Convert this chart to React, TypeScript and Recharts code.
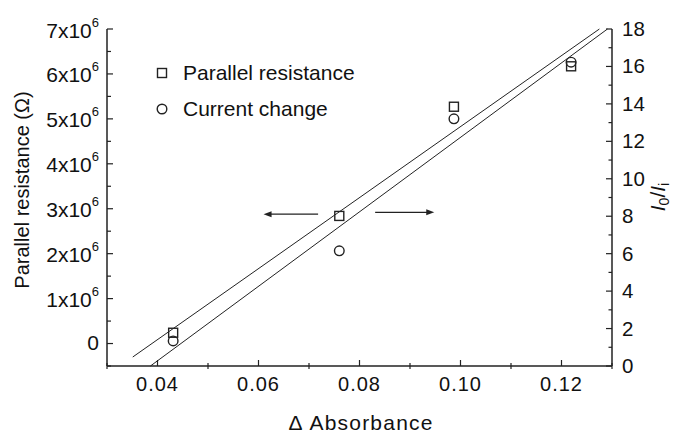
import { Label, Legend, ReferenceLine, Scatter, ScatterChart, XAxis, YAxis } from 'recharts';

const absorbance = [0.0431, 0.076, 0.0987, 0.1219];
const parallelResistance = [0.24e6, 2.84e6, 5.27e6, 6.17e6];
const currentChange = [1.34, 6.15, 13.2, 16.23];

// end points of the two linear fits
const fitResistance = [{ x: 0.0351, y: -0.3e6 }, { x: 0.1275, y: 7e6 }];
const fitCurrent = [{ x: 0.0386, y: 0 }, { x: 0.1291, y: 18 }];

// annotation arrows (which axis each set belongs to)
const arrowLeft = [{ x: 0.0718, y: 2.88e6 }, { x: 0.061, y: 2.88e6 }];
const arrowRight = [{ x: 0.0831, y: 2.92e6 }, { x: 0.0948, y: 2.92e6 }];

const xTicks = [0.03, 0.04, 0.05, 0.06, 0.07, 0.08, 0.09, 0.1, 0.11, 0.12, 0.13];
const xLabels = [0.04, 0.06, 0.08, 0.1, 0.12];
const leftTicks = [-0.5e6, 0, 0.5e6, 1e6, 1.5e6, 2e6, 2.5e6, 3e6, 3.5e6, 4e6, 4.5e6, 5e6, 5.5e6, 6e6, 6.5e6, 7e6];
const leftLabels = [0, 1e6, 2e6, 3e6, 4e6, 5e6, 6e6, 7e6];
const rightTicks = [0, 1, 2, 3, 4, 5, 6, 7, 8, 9, 10, 11, 12, 13, 14, 15, 16, 17, 18];
const rightLabels = [0, 2, 4, 6, 8, 10, 12, 14, 16, 18];

const resistancePoints = absorbance.map((x, i) => ({ x, y: parallelResistance[i] }));
const currentPoints = absorbance.map((x, i) => ({ x, y: currentChange[i] }));

const INK = '#222';
const FONT = 'Liberation Sans, Arial, sans-serif';
const isIn = (list: number[], v: number) => list.some((l) => Math.abs(l - v) < 1e-9);

function BottomTick({ x, y, payload }: any) {
  const major = isIn(xLabels, payload.value);
  return (
    <g>
      <line x1={x} x2={x} y1={major ? y - 6 : y - 3} y2={major ? y : y + 3} stroke={INK} strokeWidth={1.2} />
      {major && (
        <text x={x} y={y + 25} textAnchor="middle" fontSize={20} fontFamily={FONT} fill="#111" letterSpacing={1}>
          {payload.value.toFixed(2)}
        </text>
      )}
    </g>
  );
}

function TopTick({ x, y }: any) {
  return <line x1={x} x2={x} y1={y} y2={y + 5} stroke={INK} strokeWidth={1.2} />;
}

function LeftTick({ x, y, payload }: any) {
  const v = payload.value;
  const major = isIn(leftLabels, v);
  const n = Math.round(v / 1e6);
  return (
    <g>
      <line x1={x} x2={x + (major ? 6 : 4)} y1={y} y2={y} stroke={INK} strokeWidth={1.2} />
      {major &&
        (n === 0 ? (
          <text x={x - 8} y={y + 6} textAnchor="end" fontSize={21} fontFamily={FONT} fill="#111">0</text>
        ) : (
          <text x={x - 8} y={y + 8.5} textAnchor="end" fontSize={21} fontFamily={FONT} fill="#111">
            <tspan>{n}x10</tspan>
            <tspan dy={-11} fontSize={13}>6</tspan>
          </text>
        ))}
    </g>
  );
}

function RightTick({ x, y, payload }: any) {
  const major = isIn(rightLabels, payload.value);
  return (
    <g>
      <line x1={x - (major ? 6 : 3.5)} x2={x} y1={y} y2={y} stroke={INK} strokeWidth={1.2} />
      {major && (
        <text x={x + 10} y={y + 7} fontSize={20.5} fontFamily={FONT} fill="#111">{payload.value}</text>
      )}
    </g>
  );
}

const Square = ({ cx, cy }: any) => (
  <rect x={cx - 4.5} y={cy - 4.5} width={9} height={9} fill="none" stroke={INK} strokeWidth={1.4} />
);
const Circle = ({ cx, cy }: any) => <circle cx={cx} cy={cy} r={4.8} fill="none" stroke={INK} strokeWidth={1.4} />;
const NoDot = () => <g />;

function Arrow({ x1, y1, x2, y2 }: any) {
  const dir = x2 > x1 ? 1 : -1;
  return (
    <g>
      <line x1={x1} y1={y1} x2={x2 - dir * 6} y2={y2} stroke={INK} strokeWidth={1.1} />
      <polygon points={`${x2},${y2} ${x2 - dir * 8},${y2 - 3} ${x2 - dir * 8},${y2 + 3}`} fill={INK} />
    </g>
  );
}

function LegendBox() {
  const row = { display: 'flex', alignItems: 'center', height: 36 } as const;
  const txt = { fontFamily: FONT, fontSize: 21, color: '#111', marginLeft: 15 };
  return (
    <div>
      <div style={row}>
        <svg width={12} height={12}><rect x={1.5} y={1.5} width={9} height={9} fill="none" stroke={INK} strokeWidth={1.4} /></svg>
        <span style={txt}>Parallel resistance</span>
      </div>
      <div style={row}>
        <svg width={12} height={12}><circle cx={6} cy={6} r={4.8} fill="none" stroke={INK} strokeWidth={1.4} /></svg>
        <span style={txt}>Current change</span>
      </div>
    </div>
  );
}

const LeftTitle = () => (
  <text transform="rotate(-90, 29, 190)" x={29} y={190} textAnchor="middle" fontSize={20} fontFamily={FONT} fill="#111">
    Parallel resistance (Ω)
  </text>
);

const RightTitle = () => (
  <text transform="rotate(-90, 665, 197)" x={665} y={197} textAnchor="middle" fontSize={21} fontFamily={FONT} fill="#111">
    <tspan fontStyle="italic">I</tspan>
    <tspan dy={4} fontSize={14}>0</tspan>
    <tspan dy={-4}>/</tspan>
    <tspan fontStyle="italic">I</tspan>
    <tspan dy={4} fontSize={14}>i</tspan>
  </text>
);

const BottomTitle = () => (
  <text x={361} y={430} textAnchor="middle" fontSize={21} fontFamily={FONT} fill="#111" letterSpacing={1.2}>
    Δ Absorbance
  </text>
);

export default function App() {
  const axisLine = { stroke: INK, strokeWidth: 1.5 };
  return (
    <div style={{ position: 'absolute', left: 0, top: 0, background: '#fff' }}>
      <ScatterChart width={674} height={433} margin={{ top: 29, right: 0, bottom: 0, left: 0 }}>
        <XAxis
          xAxisId={0}
          type="number"
          dataKey="x"
          domain={[0.03, 0.13]}
          ticks={xTicks}
          interval={0}
          height={67}
          tickSize={0}
          tickMargin={0}
          axisLine={axisLine}
          tickLine={false}
          tick={BottomTick}
        >
          <Label content={BottomTitle} />
        </XAxis>
        <XAxis
          xAxisId="top"
          orientation="top"
          type="number"
          dataKey="x"
          domain={[0.03, 0.13]}
          ticks={xTicks}
          interval={0}
          height={0}
          tickSize={0}
          tickMargin={0}
          axisLine={axisLine}
          tickLine={false}
          tick={TopTick}
        />
        <YAxis
          yAxisId="left"
          type="number"
          dataKey="y"
          domain={[-0.5e6, 7e6]}
          ticks={leftTicks}
          interval={0}
          width={107}
          tickSize={0}
          tickMargin={0}
          axisLine={axisLine}
          tickLine={false}
          tick={LeftTick}
        >
          <Label content={LeftTitle} />
        </YAxis>
        <YAxis
          yAxisId="right"
          orientation="right"
          type="number"
          dataKey="y"
          domain={[0, 18]}
          ticks={rightTicks}
          interval={0}
          width={62}
          tickSize={0}
          tickMargin={0}
          axisLine={axisLine}
          tickLine={false}
          tick={RightTick}
        >
          <Label content={RightTitle} />
        </YAxis>
        <Legend
          layout="vertical"
          align="center"
          verticalAlign="middle"
          content={LegendBox}
          wrapperStyle={{ left: 156, top: 55, width: 260, height: 72 }}
        />
        <Scatter name="fitR" data={fitResistance} yAxisId="left" line={{ stroke: INK, strokeWidth: 1 }} shape={NoDot} legendType="none" isAnimationActive={false} />
        <Scatter name="fitI" data={fitCurrent} yAxisId="right" line={{ stroke: INK, strokeWidth: 1 }} shape={NoDot} legendType="none" isAnimationActive={false} />
        <Scatter name="Parallel resistance" data={resistancePoints} yAxisId="left" shape={Square} isAnimationActive={false} />
        <Scatter name="Current change" data={currentPoints} yAxisId="right" shape={Circle} isAnimationActive={false} />
        <ReferenceLine yAxisId="left" segment={arrowLeft} shape={Arrow} />
        <ReferenceLine yAxisId="left" segment={arrowRight} shape={Arrow} />
      </ScatterChart>
    </div>
  );
}
